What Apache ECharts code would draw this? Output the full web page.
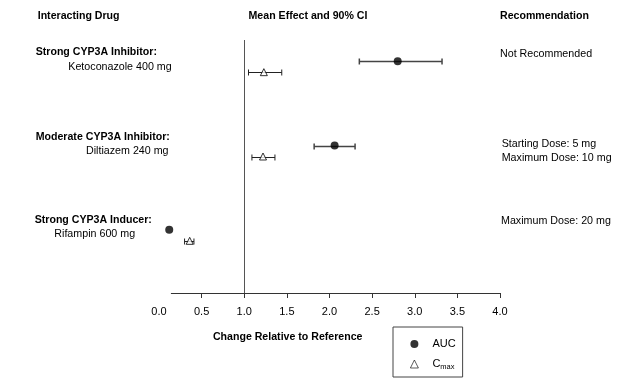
<!DOCTYPE html>
<html>
<head>
<meta charset="utf-8">
<script src="https://cdn.jsdelivr.net/npm/echarts@6/dist/echarts.min.js"></script>
<style>html,body{margin:0;padding:0;background:#fff}#c{width:631px;height:385px}</style>
</head>
<body>
<div id="c"></div>
<script>
// ---- data ----
const drugClasses = ['Strong CYP3A Inhibitor:', 'Moderate CYP3A Inhibitor:', 'Strong CYP3A Inducer:'];
const drugNames = ['Ketoconazole 400 mg', 'Diltiazem 240 mg', 'Rifampin 600 mg'];
const recommendations = [['Not Recommended'], ['Starting Dose: 5 mg', 'Maximum Dose: 10 mg'], ['Maximum Dose: 20 mg']];
const aucMean = [2.80, 2.06, 0.12];
const aucLow = [2.35, 1.82, null];
const aucHigh = [3.32, 2.30, null];
const cmaxMean = [1.23, 1.22, 0.36];
const cmaxLow = [1.05, 1.09, 0.30];
const cmaxHigh = [1.44, 1.36, 0.41];
const xTickValues = [0.5, 1.0, 1.5, 2.0, 2.5, 3.0, 3.5, 4.0];
const xLabelValues = [0.0, 0.5, 1.0, 1.5, 2.0, 2.5, 3.0, 3.5, 4.0];
const headers = ['Interacting Drug', 'Mean Effect and 90% CI', 'Recommendation'];
const xTitle = 'Change Relative to Reference';
const seriesNames = ['AUC', 'Cmax'];
const refValue = 1.0;

// ---- layout (pixels) ----
const FONT = 'Liberation Sans, Arial, sans-serif';
const AUC_OFF = -21, CMAX_OFF = -10;
const classPos = [[35.7, 52], [35.7, 137.5], [34.7, 220]];
const namePos = [[68.3, 67], [86, 151], [54.3, 234.5]];
const recPos = [[[500, 54.5]], [[501.7, 144.5], [501.7, 158]], [[501, 221]]];

const chart = echarts.init(document.getElementById('c'), null, {renderer: 'canvas'});

function ciData(lo, hi) {
  return lo.map((l, i) => [l, hi[i], i]).filter(d => d[0] != null && d[1] != null);
}
function ciRender(off, color, width) {
  return function (params, api) {
    const a = api.coord([api.value(0), api.value(2)]);
    const b = api.coord([api.value(1), api.value(2)]);
    const y = Math.round(a[1] + off) + 0.5;
    const st = {stroke: color, lineWidth: width};
    return {
      type: 'group',
      children: [
        {type: 'line', shape: {x1: a[0], y1: y, x2: b[0], y2: y}, style: st},
        {type: 'line', shape: {x1: a[0], y1: y - 3, x2: a[0], y2: y + 3}, style: st},
        {type: 'line', shape: {x1: b[0], y1: y - 3, x2: b[0], y2: y + 3}, style: st}
      ]
    };
  };
}

const graphics = [];
function txt(x, y, text, bold, align, size) {
  graphics.push({type: 'text', x: x, y: y, silent: true,
    style: {text: text, fill: '#000', font: (bold ? 'bold ' : '') + (size || 10.7) + 'px ' + FONT,
      textAlign: align || 'left', textVerticalAlign: 'middle'}});
}
txt(37.7, 16.5, headers[0], true, 'left', 10.6);
txt(308, 16.5, headers[1], true, 'center', 10.6);
txt(500, 16.5, headers[2], true, 'left', 10.6);
drugClasses.forEach((t, i) => txt(classPos[i][0], classPos[i][1], t, true, 'left', 10.6));
drugNames.forEach((t, i) => txt(namePos[i][0], namePos[i][1], t, false, 'left'));
recommendations.forEach((lines, i) => lines.forEach((t, j) => txt(recPos[i][j][0], recPos[i][j][1], t, false, 'left')));
txt(287.7, 337, xTitle, true, 'center', 10.6);

const option = {
  animation: false,
  backgroundColor: '#fff',
  grid: {left: 159, right: 131, top: 40, bottom: 92},
  xAxis: {
    type: 'value', min: 0, max: 4, interval: 0.5,
    axisLine: {show: false, onZero: false},
    splitLine: {show: false},
    axisTick: {show: true, length: 5, customValues: xTickValues, lineStyle: {color: '#333'}},
    axisLabel: {customValues: xLabelValues, color: '#000', fontFamily: FONT, fontSize: 11, margin: 13,
      formatter: v => v.toFixed(1)}
  },
  yAxis: {type: 'value', min: -0.5, max: 2.5, inverse: true, show: false, splitLine: {show: false}},
  legend: {
    orient: 'vertical', left: 393, top: 327,
    padding: [10, 7, 6, 17], itemGap: 6, itemWidth: 8, itemHeight: 8,
    borderColor: '#444', borderWidth: 1,
    data: [
      {name: seriesNames[0]},
      {name: seriesNames[1], itemStyle: {color: '#fff', borderColor: '#000', borderWidth: 0.8}}
    ],
    formatter: n => n === 'Cmax' ? 'C{sub|max}' : n,
    textStyle: {fontFamily: FONT, fontSize: 11, color: '#000', lineHeight: 14, padding: [0, 0, 0, 9],
      rich: {sub: {fontSize: 7.5, fontFamily: FONT, color: '#000', padding: [6, 0, 0, 0]}}}
  },
  graphic: graphics,
  series: [
    {type: 'custom', name: 'aucCI', renderItem: ciRender(AUC_OFF, '#444', 1.5),
      data: ciData(aucLow, aucHigh), encode: {x: [0, 1], y: 2}, silent: true, z: 2,
      markLine: {silent: true, symbol: 'none', label: {show: false},
        lineStyle: {color: '#555', width: 1, type: 'solid'}, data: [{xAxis: refValue}]}},
    {type: 'custom', name: 'cmaxCI', renderItem: ciRender(CMAX_OFF, '#222', 1),
      data: ciData(cmaxLow, cmaxHigh), encode: {x: [0, 1], y: 2}, silent: true, z: 2},
    {type: 'scatter', name: 'AUC', symbol: 'circle', symbolSize: 8, symbolOffset: [0, AUC_OFF],
      itemStyle: {color: '#000'}, z: 5,
      data: aucMean.map((v, i) => [v, i])},
    {type: 'scatter', name: 'Cmax', symbol: 'triangle', symbolSize: 7, symbolOffset: [0, CMAX_OFF],
      itemStyle: {color: '#fff', borderColor: '#000', borderWidth: 1}, z: 5,
      data: cmaxMean.map((v, i) => [v, i])}
  ]
};
chart.setOption(option);

// axis baseline positioned from the axis scale
const p0 = chart.convertToPixel({xAxisIndex: 0}, 0.14);
const p1 = chart.convertToPixel({xAxisIndex: 0}, 4);
const yb = 385 - 92;
chart.setOption({graphic: graphics.concat([{type: 'line', silent: true,
  shape: {x1: p0, y1: yb + 0.5, x2: p1, y2: yb + 0.5}, style: {stroke: '#333', lineWidth: 1}}])});
</script>
</body>
</html>
